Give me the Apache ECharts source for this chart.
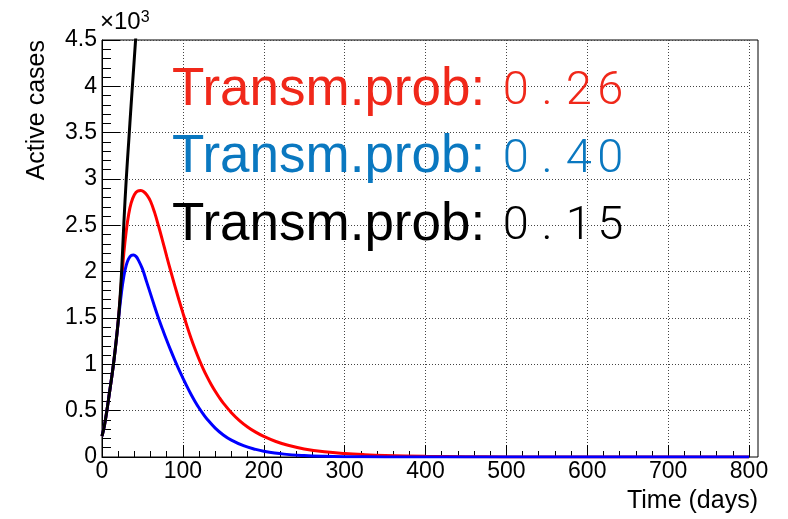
<!DOCTYPE html>
<html>
<head>
<meta charset="utf-8">
<script src="https://cdn.jsdelivr.net/npm/echarts@6/dist/echarts.min.js"></script>
<style>
  html, body { margin: 0; padding: 0; background: #fff; }
  #main { width: 788px; height: 519px; }
</style>
</head>
<body>
<div id="main"></div>
<script>
// values (cases vs. days)
var redDays   = [0, 3, 6, 9, 12, 15, 18, 21, 24, 27, 30, 33, 36, 40, 44, 48, 52, 56, 60, 65, 70, 75, 80, 85, 90, 95, 100, 105, 110, 115, 120, 125, 130, 135, 140, 145, 150, 160, 170, 180, 190, 200, 215, 230, 250, 275, 300, 325, 350, 400, 450, 500, 550, 600, 700, 800];
var redCases  = [225, 340, 500, 680, 860, 1060, 1290, 1560, 1880, 2200, 2440, 2620, 2740, 2830, 2870, 2875, 2860, 2820, 2760, 2640, 2490, 2330, 2165, 2005, 1850, 1700, 1555, 1415, 1285, 1165, 1055, 955, 865, 783, 709, 642, 582, 478, 393, 324, 268, 222, 167, 126, 87, 56, 37, 25, 17, 7, 3, 1, 0, 0, 0, 0];

var blueDays  = [0, 3, 6, 9, 12, 15, 18, 21, 24, 27, 30, 33, 36, 39, 42, 45, 50, 55, 60, 65, 70, 75, 80, 85, 90, 95, 100, 105, 110, 115, 120, 125, 130, 140, 150, 160, 175, 190, 200, 225, 250, 275, 300, 350, 400, 500, 600, 700, 800];
var blueCases = [225, 340, 500, 680, 860, 1060, 1290, 1540, 1770, 1950, 2070, 2140, 2175, 2180, 2165, 2125, 2030, 1895, 1760, 1625, 1495, 1375, 1260, 1150, 1045, 945, 852, 762, 678, 600, 529, 465, 408, 312, 238, 182, 122, 82, 62, 31, 15, 7, 3.5, 1, 0, 0, 0, 0, 0];

var blackDays  = [0, 3, 6, 9, 12, 15, 18, 21, 24, 27, 30, 33, 36, 39, 42, 45];
var blackCases = [225, 340, 500, 680, 860, 1060, 1290, 1560, 1960, 2520, 3000, 3400, 3800, 4180, 4560, 4920];

var xTicks = [0, 100, 200, 300, 400, 500, 600, 700, 800];
var yTicks = [0, 0.5, 1, 1.5, 2, 2.5, 3, 3.5, 4, 4.5];   // in units of 10^3

var labels = ['0.26', '0.40', '0.15'];
var labelColors = ['#f0281a', '#0a78c0', '#000000'];

function pairs(xs, ys) {
    var out = [];
    for (var i = 0; i < xs.length; i++) {
        out.push([xs[i], ys[i]]);
    }
    return out;
}

var sans = 'Liberation Sans, Arial, Helvetica, sans-serif';
var thin = 'Roboto, Liberation Mono, monospace';

var myChart = echarts.init(document.getElementById('main'), null, { renderer: 'canvas' });

var graphics = [];
for (var i = 0; i < labels.length; i++) {
    // every digit gets its own fixed-width cell, like a typewriter font
    var txt = '{a|Transm.prob: }';
    for (var k = 0; k < labels[i].length; k++) {
        txt += '{c|' + labels[i].charAt(k) + '}';
    }
    graphics.push({
        type: 'text',
        x: 172,
        y: 90 + i * 67.5,
        z: 100,
        style: {
            text: txt,
            verticalAlign: 'middle',
            rich: {
                a: { fontFamily: sans, fontSize: 53, fill: labelColors[i] },
                c: { fontFamily: thin, fontWeight: 300, fontSize: 47, width: 31.5, align: 'center', fill: labelColors[i], padding: [5, 0, 0, 0] }
            }
        }
    });
}
// axis titles and exponent
graphics.push({
    type: 'text', x: 37, y: 40, rotation: Math.PI / 2,
    style: { text: 'Active cases', fontFamily: sans, fontSize: 25, fill: '#000', align: 'right', verticalAlign: 'middle' }
});
graphics.push({
    type: 'text', x: 758, y: 501,
    style: { text: 'Time (days)', fontFamily: sans, fontSize: 25, fill: '#000', align: 'right', verticalAlign: 'middle' }
});
graphics.push({
    type: 'text', x: 100, y: 22,
    style: {
        text: '{a|\u00d710}{b|3}',
        verticalAlign: 'middle',
        rich: {
            a: { fontFamily: sans, fontSize: 24, fill: '#000' },
            b: { fontFamily: sans, fontSize: 16, fill: '#000', verticalAlign: 'top' }
        }
    }
});

myChart.setOption({
    animation: false,
    backgroundColor: '#fff',
    grid: [
        { left: 102, right: 39, top: 40, bottom: 62, show: false },
        { left: 102, right: 30, top: 40, bottom: 62, show: true, borderColor: '#000', borderWidth: 1, backgroundColor: 'transparent', z: 0 }
    ],
    xAxis: [{
        type: 'value',
        gridIndex: 0,
        min: xTicks[0],
        max: xTicks[xTicks.length - 1],
        interval: 100,
        axisLine: { show: true, onZero: false, lineStyle: { color: '#000', width: 1 } },
        axisTick: { show: true, inside: true, length: 12, lineStyle: { color: '#000' } },
        minorTick: { show: true, splitNumber: 5, length: 6, lineStyle: { color: '#000' } },
        splitLine: { show: true, lineStyle: { color: '#444', type: [1, 2], width: 1 } },
        axisLabel: { color: '#000', fontFamily: sans, fontSize: 23, margin: 3 }
    }, {
        type: 'value', gridIndex: 1, min: 0, max: 1, show: false
    }],
    yAxis: [{
        type: 'value',
        gridIndex: 0,
        min: yTicks[0] * 1000,
        max: yTicks[yTicks.length - 1] * 1000,
        interval: 500,
        axisLine: { show: true, onZero: false, lineStyle: { color: '#000', width: 1 } },
        axisTick: { show: true, inside: true, length: 18, lineStyle: { color: '#000' } },
        minorTick: { show: true, splitNumber: 5, length: 9, lineStyle: { color: '#000' } },
        splitLine: { show: true, lineStyle: { color: '#444', type: [1, 2], width: 1 } },
        axisLabel: {
            color: '#000', fontFamily: sans, fontSize: 23, margin: 5,
            formatter: function (v) { return String(v / 1000); }
        }
    }, {
        type: 'value', gridIndex: 1, min: 0, max: 1, show: false
    }],
    series: [
        {
            name: 'red', type: 'line', xAxisIndex: 0, yAxisIndex: 0,
            data: pairs(redDays, redCases), smooth: 0.4, showSymbol: false,
            lineStyle: { color: '#ff0000', width: 3 }, clip: true
        },
        {
            name: 'blue', type: 'line', xAxisIndex: 0, yAxisIndex: 0,
            data: pairs(blueDays, blueCases), smooth: 0.4, showSymbol: false,
            lineStyle: { color: '#0000ff', width: 3 }, clip: true
        },
        {
            name: 'black', type: 'line', xAxisIndex: 0, yAxisIndex: 0,
            data: pairs(blackDays, blackCases), smooth: 0.4, showSymbol: false,
            lineStyle: { color: '#000000', width: 3 }, clip: true
        }
    ],
    graphic: graphics
});
window.onresize = myChart.resize;
</script>
</body>
</html>
